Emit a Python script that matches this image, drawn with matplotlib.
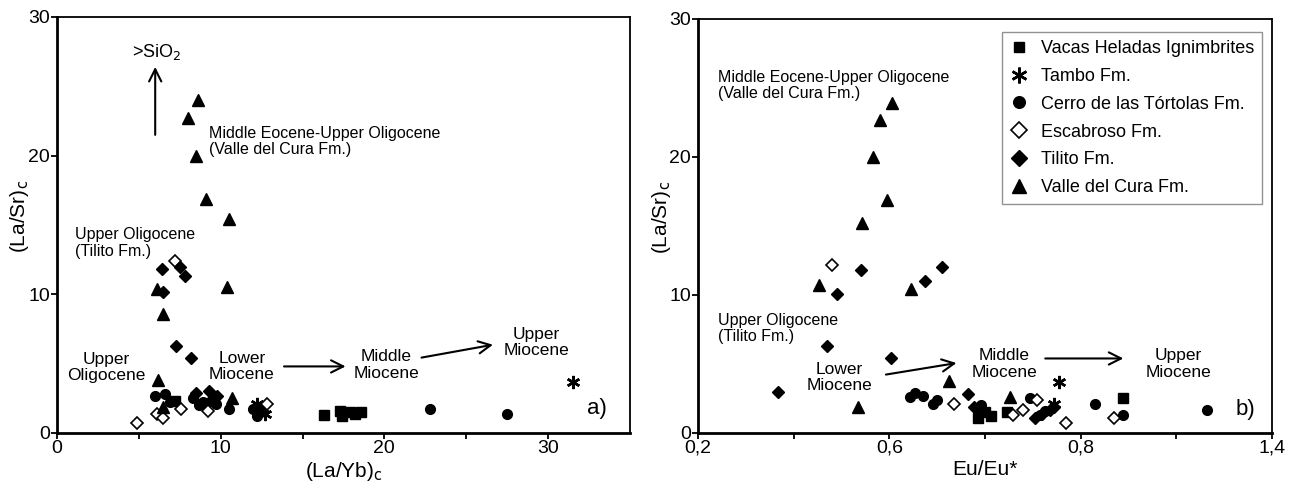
import matplotlib
matplotlib.use('Agg')
import matplotlib.pyplot as plt

plt.rcParams['font.family'] = ['Liberation Sans', 'DejaVu Sans']

# --- data ------------------------------------------------------------------
labels = ['Vacas Heladas Ignimbrites', 'Tambo Fm.', 'Cerro de las Tórtolas Fm.',
          'Escabroso Fm.', 'Tilito Fm.', 'Valle del Cura Fm.']

# panel a) (La/Yb)c vs (La/Sr)c
vacas_a_x = [7.2, 16.3, 17.3, 17.4, 17.9, 18.2, 18.6]
vacas_a_y = [2.3, 1.3, 1.6, 1.2, 1.5, 1.4, 1.5]
tambo_a_x = [12.2, 12.7, 12.5, 31.5]
tambo_a_y = [2.1, 1.4, 1.8, 3.7]
cerro_a_x = [6.0, 6.6, 6.9, 8.3, 8.7, 8.9, 9.4, 9.7, 10.5, 12.0, 12.2, 12.4, 22.8, 27.5]
cerro_a_y = [2.7, 2.8, 2.2, 2.5, 2.0, 2.2, 2.3, 2.1, 1.7, 1.7, 1.2, 1.5, 1.7, 1.4]
escab_a_x = [7.2, 4.9, 6.1, 6.5, 7.6, 9.2, 12.8]
escab_a_y = [12.4, 0.7, 1.4, 1.1, 1.7, 1.6, 2.1]
tilito_a_x = [6.4, 7.5, 7.8, 6.5, 7.3, 8.2, 8.5, 9.3, 9.8]
tilito_a_y = [11.8, 12.0, 11.3, 10.2, 6.3, 5.4, 2.9, 3.0, 2.7]
valle_a_x = [8.6, 8.0, 8.5, 9.1, 10.5, 6.1, 6.5, 10.4, 6.2, 10.7, 6.5]
valle_a_y = [24.0, 22.7, 20.0, 16.9, 15.4, 10.4, 8.6, 10.5, 3.8, 2.5, 1.9]

# panel b) Eu/Eu* vs (La/Sr)c
vacas_b_x = [0.786, 0.80, 0.813, 0.846, 1.089]
vacas_b_y = [1.1, 1.5, 1.2, 1.5, 2.5]
tambo_b_x = [0.955, 0.945]
tambo_b_y = [3.7, 2.1]
cerro_b_x = [0.644, 0.654, 0.670, 0.692, 0.70, 0.792, 0.785, 0.895, 0.915, 0.925, 1.03, 1.089, 1.263]
cerro_b_y = [2.6, 2.9, 2.7, 2.1, 2.4, 2.0, 1.8, 2.5, 1.3, 1.6, 2.1, 1.3, 1.7]
escab_b_x = [0.48, 0.736, 0.859, 0.88, 0.909, 0.97, 1.07]
escab_b_y = [12.2, 2.1, 1.3, 1.7, 2.4, 0.7, 1.1]
tilito_b_x = [0.541, 0.491, 0.675, 0.710, 0.470, 0.604, 0.368, 0.765, 0.776, 0.905, 0.92, 0.935, 0.945]
tilito_b_y = [11.8, 10.1, 11.0, 12.0, 6.3, 5.4, 3.0, 2.8, 1.9, 1.1, 1.4, 1.7, 1.9]
valle_b_x = [0.606, 0.581, 0.566, 0.595, 0.543, 0.452, 0.646, 0.535, 0.725, 0.853]
valle_b_y = [23.9, 22.7, 20.0, 16.9, 15.2, 10.7, 10.4, 1.9, 3.8, 2.6]

styles = [
    dict(marker='s', ms=6.5, mfc='black', mec='black'),
    dict(marker=(6, 2, 0), ms=9.5, mfc='black', mec='black', mew=1.8),
    dict(marker='o', ms=7, mfc='black', mec='black'),
    dict(marker='D', ms=6.5, mfc='white', mec='black', mew=1.2),
    dict(marker='D', ms=6.5, mfc='black', mec='black'),
    dict(marker='^', ms=8, mfc='black', mec='black'),
]


def style_axes(ax):
    for s in ['left', 'bottom']:
        ax.spines[s].set_linewidth(2)
    for s in ['top', 'right']:
        ax.spines[s].set_linewidth(1.3)
    ax.tick_params(direction='out', length=4, width=1.3, labelsize=14, pad=1)
    ax.set_ylim(0, 30)
    ax.set_yticks([0, 10, 20, 30])


def arrow(ax, x0, y0, x1, y1):
    ax.annotate('', xy=(x1, y1), xytext=(x0, y0),
                arrowprops=dict(arrowstyle='->', lw=1.5, color='black', mutation_scale=22))


fig = plt.figure(figsize=(12.98, 4.84), dpi=100)

# ---------------- panel a ----------------
ax1 = fig.add_axes([0.0439, 0.1054, 0.4414, 0.8595])
data_a = [(vacas_a_x, vacas_a_y), (tambo_a_x, tambo_a_y), (cerro_a_x, cerro_a_y),
          (escab_a_x, escab_a_y), (tilito_a_x, tilito_a_y), (valle_a_x, valle_a_y)]
for (x, y), st in zip(data_a, styles):
    ax1.plot(x, y, ls='none', **st)
style_axes(ax1)
ax1.set_xlim(0, 35)
ax1.set_xticks([0, 5, 10, 15, 20, 25, 30])
ax1.set_xticklabels(['0', '', '10', '', '20', '', '30'])
ax1.set_xlabel('(La/Yb)$_\\mathrm{c}$', fontsize=15, labelpad=2)
ax1.set_ylabel('(La/Sr)$_\\mathrm{c}$', fontsize=15)
ax1.yaxis.set_label_coords(-0.046, 0.52)

arrow(ax1, 6.0, 21.3, 6.0, 26.6)
ax1.text(6.1, 27.5, '>SiO$_\\mathrm{2}$', fontsize=13, ha='center', va='center')
ax1.text(9.3, 21.0, 'Middle Eocene-Upper Oligocene\n(Valle del Cura Fm.)',
         fontsize=11.5, ha='left', va='center', linespacing=1.1)
ax1.text(1.1, 13.7, 'Upper Oligocene\n(Tilito Fm.)', fontsize=11.5, ha='left',
         va='center', linespacing=1.1)
ax1.text(3.0, 4.7, 'Upper\nOligocene', fontsize=12.5, ha='center', va='center', linespacing=1.1)
ax1.text(11.3, 4.8, 'Lower\nMiocene', fontsize=12.5, ha='center', va='center', linespacing=1.1)
arrow(ax1, 13.7, 4.8, 17.8, 4.8)
ax1.text(20.1, 4.9, 'Middle\nMiocene', fontsize=12.5, ha='center', va='center', linespacing=1.1)
arrow(ax1, 22.1, 5.4, 26.8, 6.4)
ax1.text(29.3, 6.5, 'Upper\nMiocene', fontsize=12.5, ha='center', va='center', linespacing=1.1)
ax1.text(33.0, 1.8, 'a)', fontsize=16, ha='center', va='center')

# ---------------- panel b ----------------
ax2 = fig.add_axes([0.5378, 0.1054, 0.4422, 0.8554])
data_b = [(vacas_b_x, vacas_b_y), (tambo_b_x, tambo_b_y), (cerro_b_x, cerro_b_y),
          (escab_b_x, escab_b_y), (tilito_b_x, tilito_b_y), (valle_b_x, valle_b_y)]
for (x, y), st, lab in zip(data_b, styles, labels):
    ax2.plot(x, y, ls='none', label=lab, **st)
style_axes(ax2)
ax2.set_xlim(0.2, 1.4)
ax2.set_xticks([0.2, 0.4, 0.6, 0.8, 1.0, 1.2, 1.4])
ax2.set_xticklabels(['0,2', '', '0,6', '', '0,8', '', '1,4'])
ax2.set_xlabel('Eu/Eu*', fontsize=15, labelpad=2)
ax2.set_ylabel('(La/Sr)$_\\mathrm{c}$', fontsize=15)
ax2.yaxis.set_label_coords(-0.043, 0.52)

ax2.text(0.242, 25.2, 'Middle Eocene-Upper Oligocene\n(Valle del Cura Fm.)',
         fontsize=11.5, ha='left', va='center', linespacing=1.1)
ax2.text(0.242, 7.6, 'Upper Oligocene\n(Tilito Fm.)', fontsize=11.5, ha='left',
         va='center', linespacing=1.1)
ax2.text(0.495, 4.0, 'Lower\nMiocene', fontsize=12.5, ha='center', va='center', linespacing=1.1)
arrow(ax2, 0.587, 4.2, 0.746, 5.1)
ax2.text(0.84, 5.0, 'Middle\nMiocene', fontsize=12.5, ha='center', va='center', linespacing=1.1)
arrow(ax2, 0.92, 5.4, 1.095, 5.4)
ax2.text(1.204, 5.0, 'Upper\nMiocene', fontsize=12.5, ha='center', va='center', linespacing=1.1)
ax2.text(1.345, 1.7, 'b)', fontsize=16, ha='center', va='center')

leg = ax2.legend(loc='upper right', bbox_to_anchor=(0.9826, 0.9686), borderaxespad=0,
                 fontsize=13, frameon=True, fancybox=False, labelspacing=0.6,
                 handletextpad=0.7, handlelength=1.0, borderpad=0.45, markerscale=1.2)
leg.get_frame().set_edgecolor('#777777')
leg.get_frame().set_linewidth(1.0)

plt.savefig('out.png', dpi=100)
plt.close()
